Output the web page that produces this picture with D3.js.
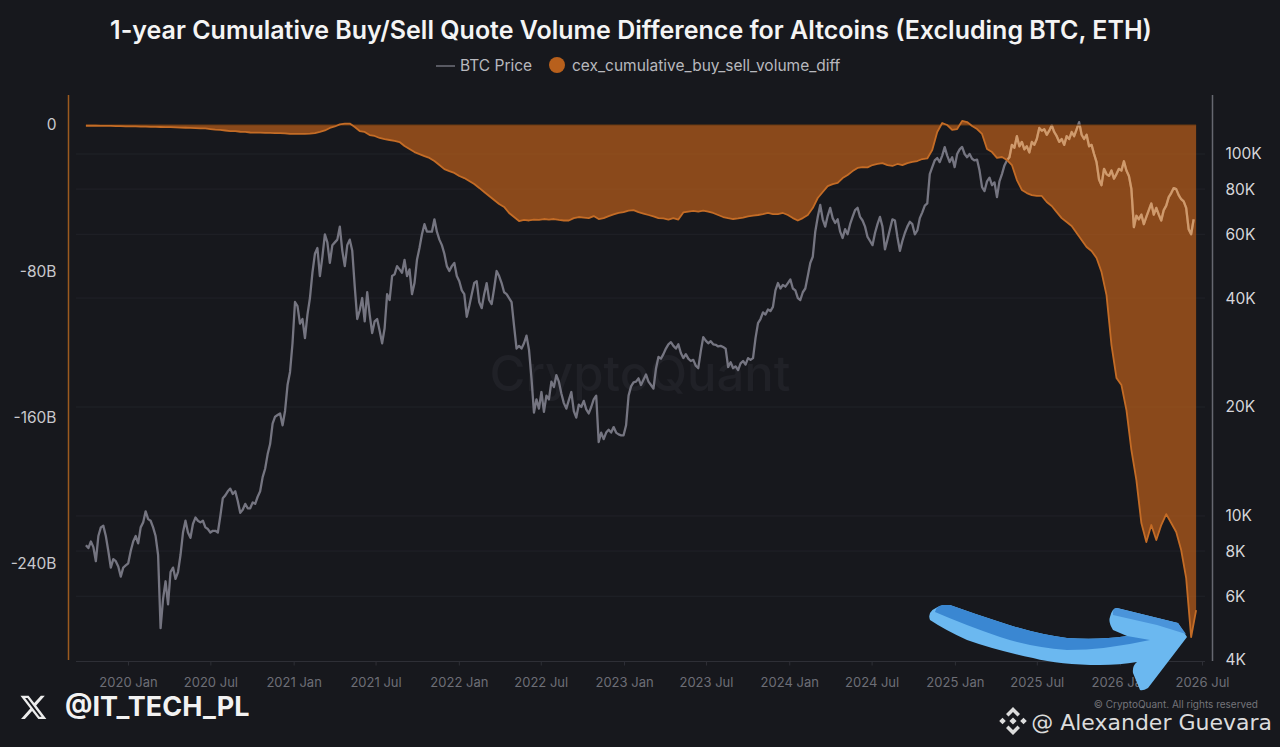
<!DOCTYPE html>
<html>
<head>
<meta charset="utf-8">
<script src="https://cdn.jsdelivr.net/npm/d3@7"></script>
<style>
  html, body { margin: 0; padding: 0; background: #17181d; }
  svg { display: block; }
</style>
</head>
<body>
<div id="viz-container"></div>
<script>
// values
let firstDay = new Date(2019, 8, 30);
let btcStepHours = 132;  // 5.5 days
let diffStepDays = 11;

let btcPrice = [
  8300,8150,8500,8200,7500,8800,9300,9400,8800,8000,7200,7600,7500,7250,6800,7200,7300,7400,8000,8500,
  8800,8400,9300,9600,10300,9800,9700,9300,8800,7800,4900,5900,6600,5700,7000,7200,6700,7000,7800,9000,
  9700,9000,8700,9500,9900,9700,9600,9700,9300,9200,9000,9100,9100,9000,10000,11200,11400,11700,11900,11500,
  11700,11000,10200,10400,10800,10500,10500,10900,10800,11300,11700,12800,13500,14800,15800,18000,18800,19000,19200,17800,
  19500,23000,25000,30000,39000,38000,34000,35000,31000,36000,40000,47000,53000,55000,46000,52000,60000,57000,50000,56000,
  57000,58000,63000,54000,49000,56000,58000,54000,43000,35000,37000,40000,34500,41500,36000,32000,34500,35000,32500,30000,
  33000,41000,39500,46000,46500,49000,48000,47000,51000,46000,48000,41000,44000,51000,55000,60000,64000,61000,61000,61000,
  66000,61000,58000,56000,53000,49000,47500,49000,50000,46000,44500,42000,41000,35500,38000,41000,44000,44500,39000,37500,
  41000,44000,39500,38500,42500,47500,46000,44000,41500,41000,40000,39000,33500,29000,29500,29000,30000,31500,28800,24000,
  19300,21000,19800,22000,19400,21500,21000,23500,22700,24500,23500,21800,20500,19800,20900,22000,19500,18700,20300,20000,
  20800,19700,19200,20000,21000,21500,16000,17000,16300,17000,17300,17000,17600,17000,16800,16700,16700,17800,21500,22800,
  23400,23500,24000,23000,23800,24600,23500,23000,22500,25500,27500,27200,28000,29000,29800,30200,29500,29000,29800,28200,
  27300,28000,27200,26800,27000,26000,25600,28500,31200,30500,30000,30400,29800,29700,29400,29500,29300,29000,25800,26600,
  25600,25900,25300,26400,26800,26200,27300,27000,27300,31000,34100,35000,36500,36000,37200,36800,37800,42000,44000,42500,
  43500,43000,44000,45000,42500,42000,40000,39500,41500,42500,46000,50000,52000,61000,67000,72300,66000,63000,67500,71000,
  66500,64500,66000,61000,58600,62000,60000,64000,67000,70000,71000,67000,65500,63000,59000,57500,56000,60500,64000,67000,
  63000,54500,58000,62000,66000,65500,59000,54000,57500,60500,63000,65000,64000,60000,61500,66500,69000,72000,73000,88000,
  92000,96000,97500,95000,99000,104500,99000,95000,98000,92000,100000,103000,104600,100000,98000,100000,97000,96000,96500,90000,
  81000,79000,84000,86000,82000,83500,76000,84000,88000,93000,96000,98000,106000,104000,112000,105000,108000,103000,105000,101000,
  108000,106000,110000,118000,116000,117000,113000,116000,120000,115000,112000,108000,110000,106000,112000,110000,115000,112000,117000,122500,
  113000,110000,113000,105000,106000,100000,95000,85000,82000,91000,88000,87000,90000,85500,88000,91000,90000,95500,90000,87000,
  80000,62800,67500,66000,68000,64000,67000,70000,73000,68000,71000,68000,65500,70000,72000,76000,78000,80500,80000,77000,
  75000,74000,71000,62000,60000,66000
];

// billions
let volumeDiff = [
  -0.4,-0.4,-0.4,-0.5,-0.5,-0.5,-0.6,-0.6,-0.7,-0.8,-0.8,-0.9,-0.9,-1.0,-1.0,-1.1,-1.2,-1.2,-1.3,-1.4,
  -1.5,-1.6,-1.7,-1.8,-1.9,-2.2,-2.5,-2.7,-3.0,-3.3,-3.4,-3.7,-3.8,-4.1,-4.2,-4.2,-4.3,-4.3,-4.4,-4.4,
  -4.6,-4.9,-4.9,-4.9,-4.9,-4.7,-4.4,-3.8,-3.0,-1.6,-0.8,0.3,0.7,0.8,-1.1,-3.3,-3.8,-5.5,-6.0,-7.1,
  -7.7,-8.2,-8.7,-9.3,-11.5,-13.1,-14.8,-15.9,-17.0,-18.0,-19.7,-21.9,-24.1,-25.2,-26.2,-27.9,-29.0,-30.6,-32.3,-34.4,
  -36.6,-38.8,-41.0,-43.2,-44.8,-48.1,-50.3,-52.5,-51.9,-52.2,-51.7,-51.9,-51.4,-51.7,-51.4,-51.9,-52.2,-52.2,-50.9,-50.3,
  -50.6,-50.9,-49.8,-51.4,-50.9,-49.8,-48.9,-48.1,-47.6,-46.8,-46.5,-47.6,-48.4,-49.2,-50.0,-50.9,-51.1,-51.7,-50.9,-51.7,
  -47.8,-47.3,-47.0,-47.3,-46.8,-47.3,-48.1,-49.2,-50.3,-50.9,-51.4,-51.1,-50.6,-50.0,-49.5,-49.2,-48.7,-48.1,-48.7,-48.7,
  -48.1,-49.2,-50.9,-52.2,-50.9,-49.2,-45.4,-39.9,-36.6,-33.4,-32.3,-31.7,-29.0,-27.3,-25.2,-23.5,-23.0,-23.2,-21.9,-21.3,
  -20.8,-21.9,-22.4,-21.3,-21.9,-20.8,-20.2,-19.7,-18.6,-18.3,-13.7,-3.8,1.1,0,-2.7,-2.2,2.2,1.6,-0.5,-2.2,
  -4.9,-13.1,-14.8,-18.0,-17.5,-19.1,-21.9,-30.1,-35.5,-37.2,-38.3,-38.8,-38.8,-42.1,-44.3,-47.6,-50.9,-53.0,-55.2,-59.1,
  -62.9,-66.7,-68.9,-72.7,-80.4,-93.0,-120.3,-138.3,-142.2,-155.8,-177.7,-194.1,-217.6,-228.0,-218.7,-226.9,-218.7,-212.7,-217.6,-222.5,
  -232.4,-247.7,-280,-265.2
];

let btcDates = btcPrice.map((d, i) => d3.timeHour.offset(firstDay, i * btcStepHours));
let diffDates = volumeDiff.map((d, i) => d3.timeDay.offset(firstDay, i * diffStepDays));

let timeTicks = [
  new Date(2020,0,1), new Date(2020,6,1), new Date(2021,0,1), new Date(2021,6,1), new Date(2022,0,1),
  new Date(2022,6,1), new Date(2023,0,1), new Date(2023,6,1), new Date(2024,0,1), new Date(2024,6,1),
  new Date(2025,0,1), new Date(2025,6,1), new Date(2026,0,1), new Date(2026,6,1)
];
let leftTicks = [0, -80, -160, -240];
let rightTicks = [100000, 80000, 60000, 40000, 20000, 10000, 8000, 6000, 4000];

let width = 1280, height = 747;

let viz = d3.select("#viz-container")
  .append("svg")
    .attr("id", "viz")
    .attr("width", width)
    .attr("height", height)
    .style("font-family", "Inter, sans-serif")
  ;

viz.append("rect").attr("width", width).attr("height", height).attr("fill", "#17181d");

let xScale = d3.scaleTime().domain([timeTicks[0], timeTicks[13]]).range([128, 1202]);
let yLeft = d3.scaleLinear().domain([0, -240]).range([125, 564]);
let yRight = d3.scaleLog().domain([4000, 100000]).range([660, 154]);

// title + legend
viz.append("text").text("1-year Cumulative Buy/Sell Quote Volume Difference for Altcoins (Excluding BTC, ETH)")
  .attr("x", 631).attr("y", 39).attr("text-anchor", "middle")
  .attr("fill", "#f4f4f4").attr("font-size", 25).attr("font-weight", 600);

viz.append("line").attr("x1", 436).attr("x2", 455).attr("y1", 66).attr("y2", 66)
  .attr("stroke", "#6f6f7a").attr("stroke-width", 1.5);
viz.append("text").text("BTC Price").attr("x", 460).attr("y", 71)
  .attr("fill", "#b8b8be").attr("font-size", 15.5);
viz.append("circle").attr("cx", 557).attr("cy", 65).attr("r", 8).attr("fill", "#b8601c");
viz.append("text").text("cex_cumulative_buy_sell_volume_diff").attr("x", 572).attr("y", 71)
  .attr("fill", "#b8b8be").attr("font-size", 15.5);

// watermark
viz.append("text").text("CryptoQuant").attr("x", 640).attr("y", 391).attr("text-anchor", "middle")
  .attr("fill", "#202127").attr("font-size", 49).attr("font-weight", 500);

// grid
viz.append("g").selectAll("line").data(rightTicks.slice(0, 8)).enter()
  .append("line")
    .attr("x1", 76).attr("x2", 1205)
    .attr("y1", d => yRight(d)).attr("y2", d => yRight(d))
    .attr("stroke", "#212229").attr("stroke-width", 1);

// axes
let xAxis = viz.append("g").attr("transform", "translate(0,661.5)")
  .call(d3.axisBottom(xScale).tickValues(timeTicks).tickFormat(d3.timeFormat("%Y %b")).tickSize(4).tickPadding(12));
xAxis.select(".domain").attr("stroke", "#2e2f36").attr("d", "M76,0H1205");
xAxis.selectAll(".tick line").attr("stroke", "#2e2f36");
xAxis.selectAll("text").attr("fill", "#6d6e76").attr("font-size", 13).attr("font-family", "Inter, sans-serif");

let leftAxis = viz.append("g").attr("transform", "translate(68.5,0)")
  .call(d3.axisLeft(yLeft).tickValues(leftTicks).tickFormat(d => d == 0 ? "0" : d + "B").tickSize(0).tickPadding(12));
leftAxis.select(".domain").attr("stroke", "#9c5a1f").attr("stroke-width", 1.5).attr("d", "M0,95V660");
leftAxis.selectAll("text").attr("fill", "#c9c9cd").attr("font-size", 15.5).attr("font-family", "Inter, sans-serif");

let rightAxis = viz.append("g").attr("transform", "translate(1212.5,0)")
  .call(d3.axisRight(yRight).tickValues(rightTicks).tickFormat(d => d / 1000 + "K").tickSize(0).tickPadding(13));
rightAxis.select(".domain").attr("stroke", "#666770").attr("stroke-width", 1.5).attr("d", "M0,95V661");
rightAxis.selectAll("text").attr("fill", "#d6d6da").attr("font-size", 15.5).attr("font-family", "Inter, sans-serif");

// series
let btcRows = btcDates.map((d, i) => ({ date: d, value: btcPrice[i] }));
let diffRows = diffDates.map((d, i) => ({ date: d, value: volumeDiff[i] }));

let btcLine = d3.line().x(d => xScale(d.date)).y(d => yRight(d.value));
let diffLine = d3.line().x(d => xScale(d.date)).y(d => yLeft(d.value));
let diffArea = d3.area().x(d => xScale(d.date)).y0(yLeft(0)).y1(d => yLeft(d.value));

viz.append("clipPath").attr("id", "area-clip").append("path").attr("d", diffArea(diffRows));

viz.append("path").attr("d", btcLine(btcRows))
  .attr("fill", "none").attr("stroke", "#757581").attr("stroke-width", 2.3).attr("stroke-linejoin", "round");
viz.append("path").attr("d", diffArea(diffRows)).attr("fill", "#c8641a").attr("fill-opacity", 0.65);
// the price line shows through the fill as pale orange
viz.append("path").attr("d", btcLine(btcRows)).attr("clip-path", "url(#area-clip)")
  .attr("fill", "none").attr("stroke", "#cf9a6c").attr("stroke-width", 2.3).attr("stroke-linejoin", "round");
viz.append("line").attr("x1", xScale(diffDates[0])).attr("x2", xScale(diffDates[223]))
  .attr("y1", yLeft(0)).attr("y2", yLeft(0)).attr("stroke", "#6b3a12").attr("stroke-width", 1);
viz.append("path").attr("d", diffLine(diffRows))
  .attr("fill", "none").attr("stroke", "#c46c26").attr("stroke-width", 1.8).attr("stroke-linejoin", "round");

// blue arrow pasted over the chart
viz.append("path")
  .attr("d", "M930,620 Q926,610 943,605 L950,605 Q975,614 1000,622 Q1035,634 1067,638 Q1100,640 1127,636 L1113,630 Q1108,622 1110,617 Q1112,608 1117,608 L1178,623 L1187,637 L1148,688 Q1143,691 1140,690 L1133,673 Q1132,666 1137,662 Q1120,665 1100,665 Q1060,665 1033,658 Q995,650 967,640 Q945,630 930,620 Z")
  .attr("fill", "#6bb8f0");
viz.append("path")
  .attr("d", "M935,612 Q936,606 943,605 L950,605 Q975,614 1000,622 Q1035,634 1067,638 Q1100,640 1127,636 L1150,640 Q1105,650 1067,650 Q1030,647 1000,637 Q965,625 935,612 Z")
  .attr("fill", "#3a87d2");
viz.append("path")
  .attr("d", "M1113,615 Q1112,608 1117,608 L1178,623 L1186,634 L1157,625 Z")
  .attr("fill", "#4a94da");

// footer
viz.append("text").text("© CryptoQuant. All rights reserved").attr("x", 1258).attr("y", 708).attr("text-anchor", "end")
  .attr("fill", "#74747a").attr("font-size", 10);
viz.append("text").text("@ Alexander Guevara").attr("x", 1272).attr("y", 730).attr("text-anchor", "end")
  .attr("fill", "#dcdcdc").attr("font-size", 22).style("font-family", "'DejaVu Sans'");
viz.append("text").text("@IT_TECH_PL").attr("x", 65).attr("y", 716)
  .attr("fill", "#f2f2f2").attr("font-size", 27).attr("font-weight", 700);

// X logo
viz.append("path")
  .attr("transform", "translate(19,693) scale(1.2)")
  .attr("d", "M18.2 2.2h3.3l-7.2 8.3 8.5 11.2h-6.7l-5.2-6.8-6 6.8H1.7l7.7-8.8L1.2 2.2h6.8l4.7 6.2zm-1.2 17.5h1.8L7.1 4.1H5.1z")
  .attr("fill", "#ececec");

// binance mark
viz.append("path")
  .attr("transform", "translate(1013,721)")
  .attr("fill", "#dcdcdc")
  .attr("d", "M0,-14L7,-7L4.5,-4.5L0,-9L-4.5,-4.5L-7,-7Z M0,14L7,7L4.5,4.5L0,9L-4.5,4.5L-7,7Z M-10.5,-3.3L-7.2,0L-10.5,3.3L-13.8,0Z M10.5,-3.3L13.8,0L10.5,3.3L7.2,0Z M0,-3.6L3.6,0L0,3.6L-3.6,0Z");
</script>
</body>
</html>
